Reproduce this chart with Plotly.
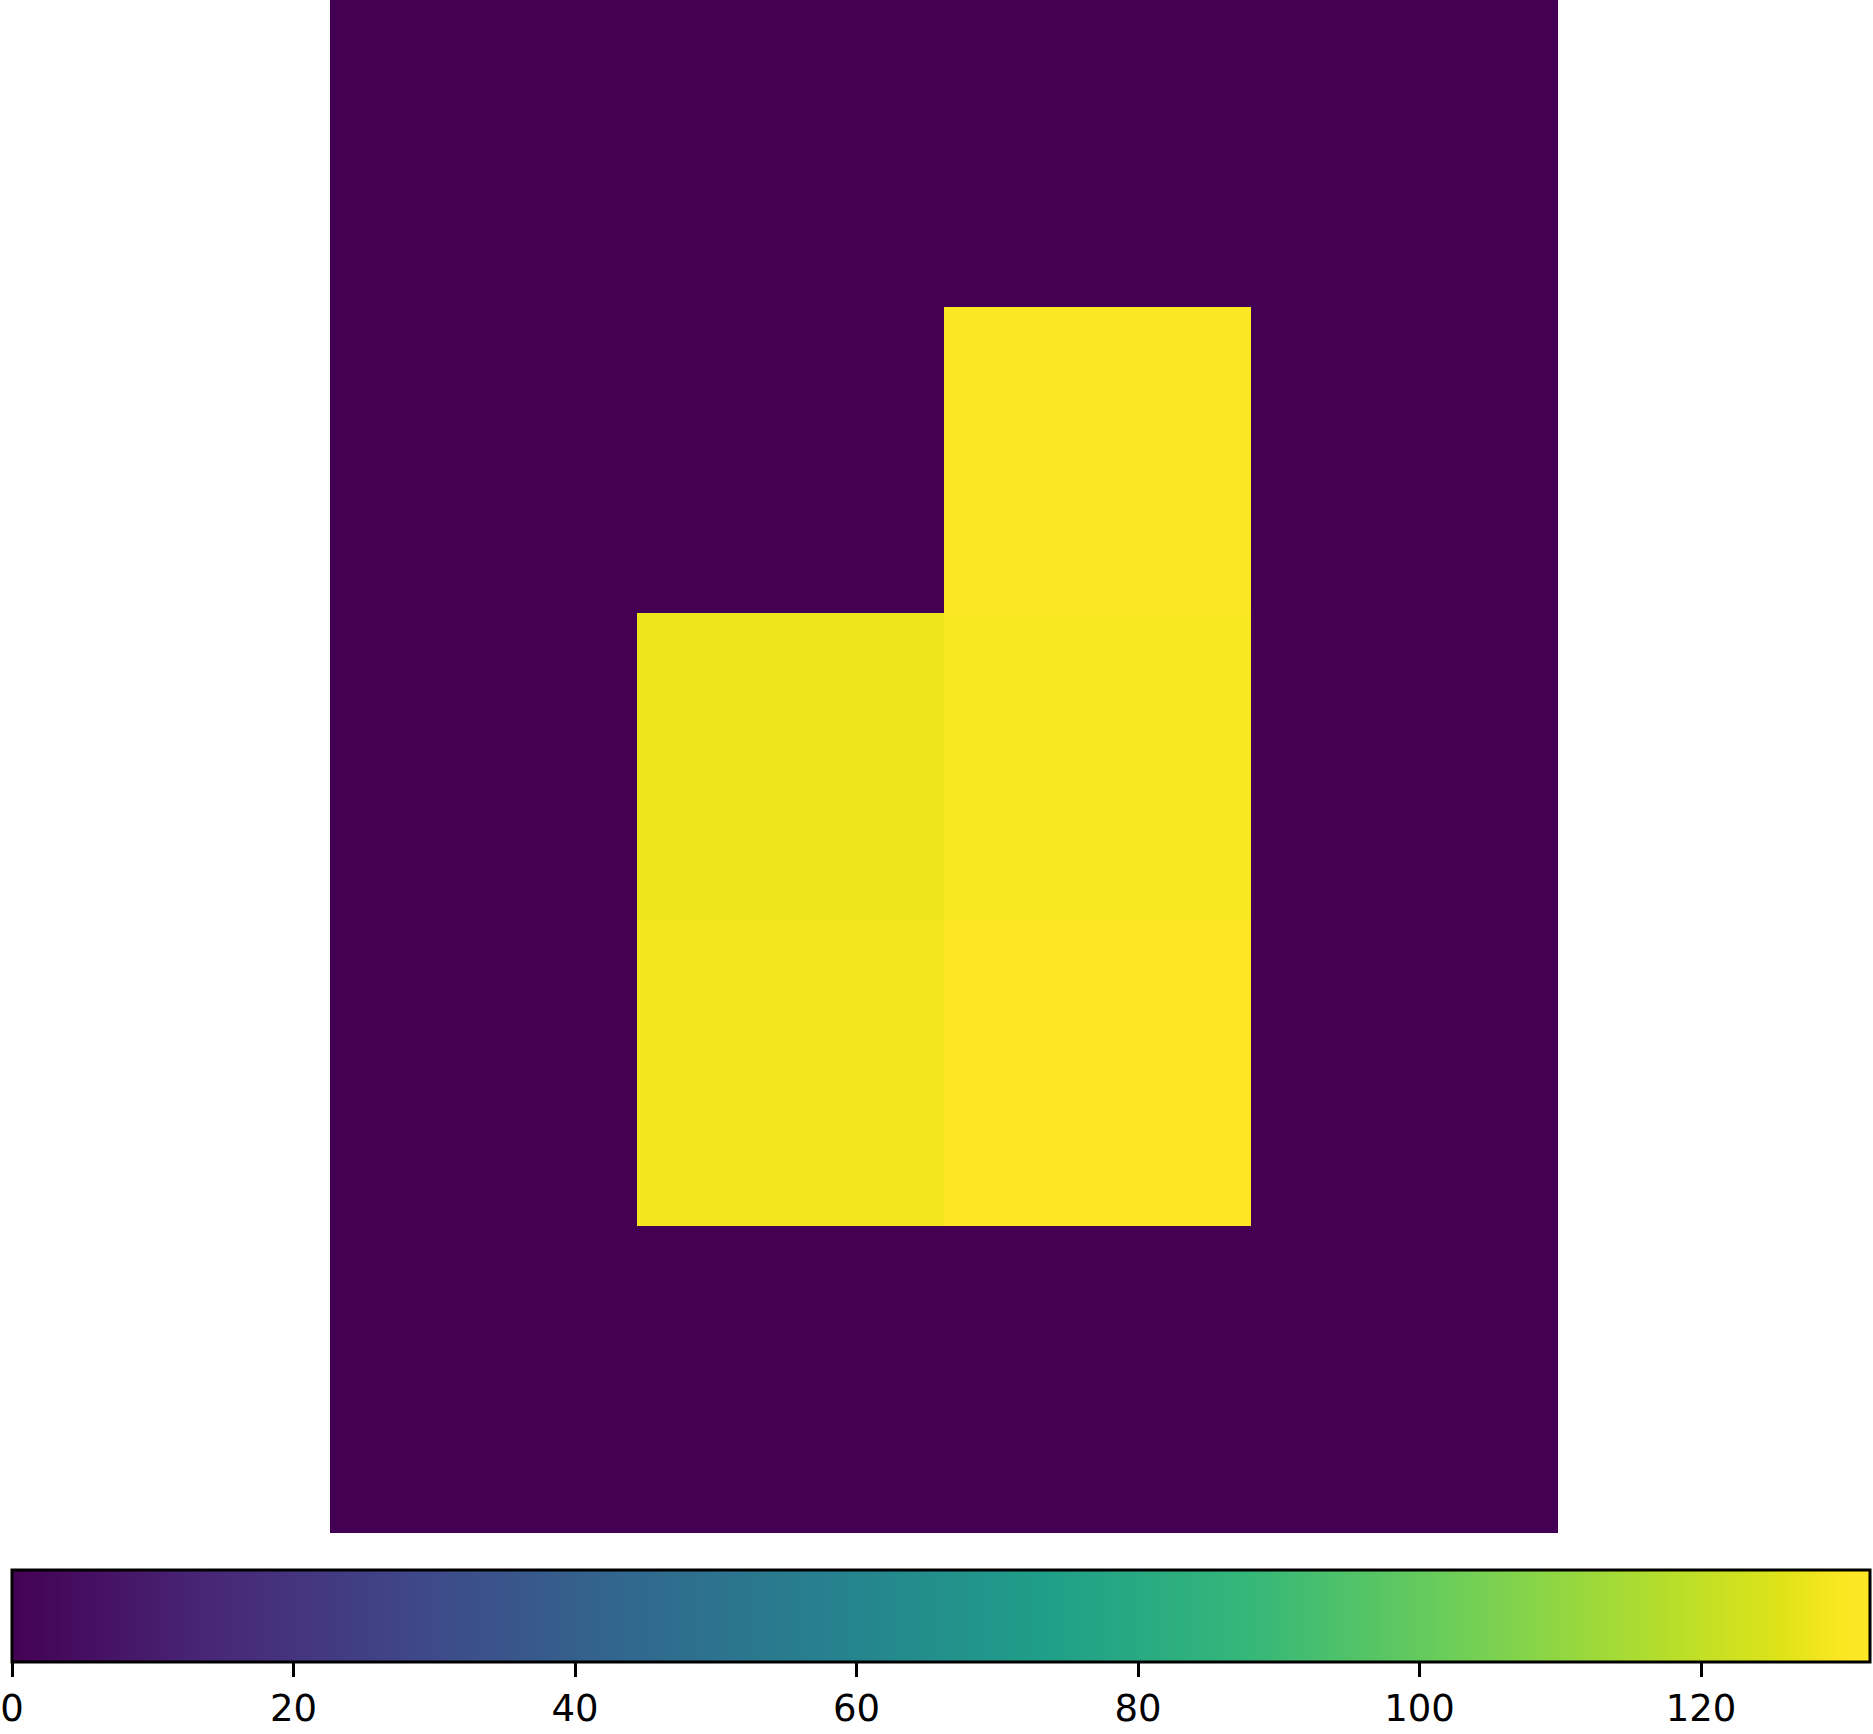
import plotly.graph_objects as go

col_labels = [0, 1, 2, 3]
row_labels = [0, 1, 2, 3, 4]
z_values = [
    [0, 0, 0, 0],
    [0, 0, 131, 0],
    [0, 128, 130, 0],
    [0, 129, 132, 0],
    [0, 0, 0, 0],
]
cbar_ticks = [0, 20, 40, 60, 80, 100, 120]
z_min, z_max = 0, 132

# viridis (finer near the top end)
viridis = [
    [0.0, "#440154"], [0.1111, "#482878"], [0.2222, "#3e4989"],
    [0.3333, "#31688e"], [0.4444, "#26828e"], [0.5556, "#1f9e89"],
    [0.6667, "#35b779"], [0.7778, "#6ece58"], [0.8902, "#b5de2b"],
    [0.9529, "#dfe318"], [0.9765, "#f4e61e"], [0.9882, "#fbe723"],
    [1.0, "#fde725"],
]

W, H = 1873, 1734

fig = go.Figure(go.Heatmap(
    z=z_values, x=col_labels, y=row_labels,
    colorscale=viridis, zmin=z_min, zmax=z_max,
    hoverinfo="skip",
    colorbar=dict(
        orientation="h",
        x=12 / W, xanchor="left",
        y=(H - 1570) / H, yanchor="top",
        len=1858, lenmode="pixels",
        thickness=92, thicknessmode="pixels",
        xpad=0, ypad=0,
        outlinecolor="black", outlinewidth=3,
        tickvals=cbar_ticks, ticktext=[str(t) for t in cbar_ticks],
        ticks="outside", ticklen=14, tickwidth=3, tickcolor="black",
        tickfont=dict(family="DejaVu Sans", size=37, color="black"),
    ),
))

fig.update_layout(
    width=W, height=H,
    margin=dict(l=0, r=0, t=0, b=0, autoexpand=False),
    paper_bgcolor="white", plot_bgcolor="white",
    xaxis=dict(domain=[330 / W, 1558 / W], range=[-0.5, 3.5], visible=False),
    yaxis=dict(domain=[(H - 1533) / H, 1], range=[4.5, -0.5], visible=False),
)

fig.write_html("out.html", config={"displayModeBar": False},
               post_script="document.body.style.margin='0';")
